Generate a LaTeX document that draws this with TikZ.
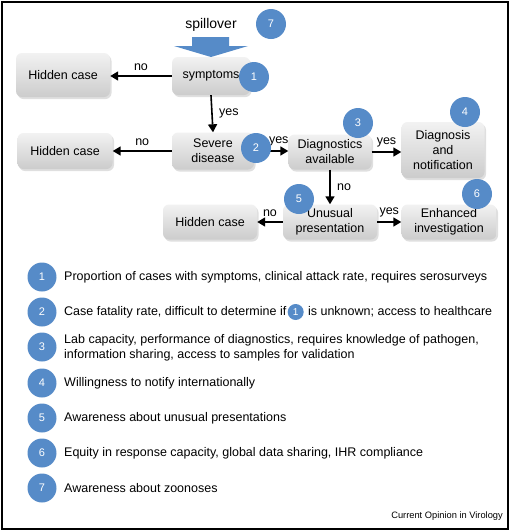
\documentclass[tikz,border=0pt]{standalone}
\usepackage{fontspec}
\setmainfont{Liberation Sans}
\usetikzlibrary{arrows.meta,positioning,shadows}
\definecolor{badgeblue}{RGB}{86,139,200}
\definecolor{boxtop}{RGB}{242,242,242}
\definecolor{boxbot}{RGB}{204,204,204}
\tikzset{
	box/.style={rounded corners=6pt, top color=boxtop, bottom color=boxbot, draw=none,
		drop shadow={shadow xshift=1.5pt, shadow yshift=-2pt, opacity=0.25},
		align=center, font=\fontsize{12.5}{15}\selectfont, inner sep=2pt},
	badge/.style={circle, fill=badgeblue, text=white, minimum size=30pt, inner sep=0pt,
		font=\fontsize{11}{13}\selectfont},
	arr/.style={line width=1.6pt, -{Triangle[length=8pt,width=9pt]}},
	lab/.style={font=\fontsize{12.5}{15}\selectfont},
	legend/.style={anchor=west, align=left, font=\fontsize{12.5}{14.5}\selectfont, inner sep=0pt}
}

\begin{document}
\begin{tikzpicture}[x=1pt,y=-1pt]
			\useasboundingbox (0,0) rectangle (510,531);
			\fill[white] (0,0) rectangle (510,531);
			\draw[line width=2pt] (2,2) rectangle (508,529);
			
			% spillover
			\node[font=\fontsize{14}{16}\selectfont] (spill) at (211,25) {spillover};
			\fill[badgeblue] (192,37)--(229,37)--(229,46)--(248,46)--(211,57)--(174,46)--(192,46)--cycle;
			
			% flow boxes
			\node[box, minimum width=94pt, minimum height=44pt] (hid1) at (63,75) {Hidden case};
			\node[box, minimum width=78pt, minimum height=38pt] (symp) at (211,76) {symptoms};
			\node[box, minimum width=95pt, minimum height=36pt] (hid2) at (65,151) {Hidden case};
			\node[box, minimum width=82pt, minimum height=37pt] (sev) at (213,151) {Severe\\disease};
			\node[box, minimum width=83pt, minimum height=35pt] (diag) at (330,152) {Diagnostics\\available};
			\node[box, minimum width=83pt, minimum height=56pt] (notif) at (443,150) {Diagnosis\\and\\notification};
			\node[box, minimum width=94pt, minimum height=35pt] (hid3) at (210,222) {Hidden case};
			\node[box, minimum width=94pt, minimum height=35pt] (unus) at (330,222) {Unusual\\presentation};
			\node[box, minimum width=95pt, minimum height=35pt] (enh) at (449,222) {Enhanced\\investigation};
			
			% connectors
			\draw[arr] (symp.west) -- node[lab, above=1pt]{no} (symp.west -| hid1.east);
			\draw[arr] (symp.south) -- node[lab, right=3pt]{yes} (sev.north);
			\draw[arr] (sev.west) -- node[lab, above=1pt]{no} (sev.west -| hid2.east);
			\draw[arr] (sev.east) -- node[lab, above=1pt, pos=0.72]{yes} (sev.east -| diag.west);
			\draw[arr] (diag.east) -- node[lab, above=1pt]{yes} (diag.east -| notif.west);
			\draw[arr] (diag.south) -- node[lab, right=3pt]{no} (unus.north);
			\draw[arr] (unus.west) -- node[lab, above=1pt]{no} (unus.west -| hid3.east);
			\draw[arr] (unus.east) -- node[lab, above=1pt]{yes} (unus.east -| enh.west);
			
			% numbered badges
			\node[badge] (b7) at (271,24) {7};
			\node[badge] (b1) at (254,77) {1};
			\node[badge] (b2) at (256,148) {2};
			\node[badge] (b3) at (358,123) {3};
			\node[badge] (b4) at (465,112) {4};
			\node[badge] (b5) at (299,199) {5};
			\node[badge] (b6) at (477,194) {6};
			
			% legend
			\foreach \n/\y in {1/277,2/312,3/347,4/383,5/418,6/453,7/488}
				\node[badge, minimum size=29pt] (l\n) at (42,\y) {\n};
			\node[legend] (t1) at (64,277) {Proportion of cases with symptoms, clinical attack rate, requires serosurveys};
			\node[legend] (t2a) at (64,312) {Case fatality rate, difficult to determine if};
			\node[badge, minimum size=16pt, font=\fontsize{10}{12}\selectfont, right=1pt of t2a] (t2b) {1};
			\node[legend, right=4pt of t2b] (t2c) {is unknown; access to healthcare};
			\node[legend] (t3) at (64,348) {Lab capacity, performance of diagnostics, requires knowledge of pathogen,\\information sharing, access to samples for validation};
			\node[legend] (t4) at (64,383) {Willingness to notify internationally};
			\node[legend] (t5) at (64,418) {Awareness about unusual presentations};
			\node[legend] (t6) at (64,453) {Equity in response capacity, global data sharing, IHR compliance};
			\node[legend] (t7) at (64,488) {Awareness about zoonoses};
			
			\node[anchor=east, font=\fontsize{9.3}{11}\selectfont, inner sep=0pt] (src) at (503,516) {Current Opinion in Virology};
			
		\end{tikzpicture}
\end{document}
